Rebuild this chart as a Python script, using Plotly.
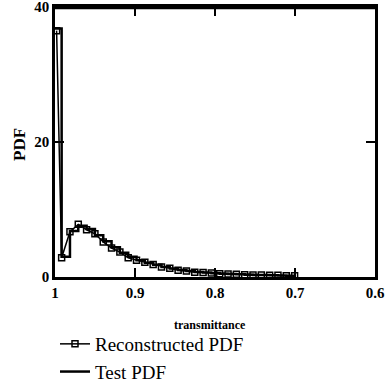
import plotly.graph_objects as go

# Reconstructed PDF (markers)
recon_x = [0.998, 0.9917, 0.9813, 0.9709, 0.9605, 0.9501, 0.9397, 0.9293, 0.9189,
           0.9085, 0.8981, 0.8877, 0.8773, 0.8669, 0.8565, 0.8461, 0.8357, 0.8253,
           0.8149, 0.8045, 0.7941, 0.7837, 0.7733, 0.7629, 0.7525, 0.7421, 0.7317,
           0.7213, 0.7109, 0.7005]
recon_y = [36.5, 2.85, 6.7, 7.8, 7.0, 6.4, 5.2, 4.3, 3.7, 2.85, 2.5, 2.2, 1.85, 1.5,
           1.3, 1.0, 0.9, 0.7, 0.65, 0.6, 0.5, 0.45, 0.4, 0.35, 0.3, 0.3, 0.25,
           0.25, 0.2, 0.2]

# Test PDF (step function, left bin edges)
test_x = [1.0, 0.9917, 0.9813, 0.9709, 0.9605, 0.9501, 0.9397, 0.9293, 0.9189,
          0.9085, 0.8981, 0.8877, 0.8773, 0.8669, 0.8565, 0.8461, 0.8357, 0.8253,
          0.8149, 0.8045, 0.7941, 0.7837, 0.7733, 0.7629, 0.7525, 0.7421, 0.7317,
          0.7213, 0.7109, 0.7005]
test_y = [36.8, 3.0, 6.8, 7.6, 7.1, 6.2, 5.3, 4.4, 3.6, 3.0, 2.5, 2.1, 1.8, 1.5,
          1.25, 1.05, 0.9, 0.75, 0.65, 0.55, 0.5, 0.45, 0.4, 0.35, 0.3, 0.28,
          0.25, 0.22, 0.2, 0.18]

x_ticks = [1.0, 0.9, 0.8, 0.7, 0.6]
x_tick_text = ["1", "0.9", "0.8", "0.7", "0.6"]
y_ticks = [0, 20, 40]

font_family = "Liberation Serif"

fig = go.Figure()
fig.add_trace(go.Scatter(
    x=recon_x, y=recon_y, mode="lines+markers", name="Reconstructed PDF",
    line=dict(color="black", width=1.5),
    marker=dict(symbol="square-open", size=6, color="black", line=dict(width=1.5)),
))
fig.add_trace(go.Scatter(
    x=test_x, y=test_y, mode="lines", name="Test PDF",
    line=dict(color="black", width=2.5, shape="hv"),
))

axis_common = dict(
    showgrid=False, zeroline=False, showline=True, linecolor="black", linewidth=2.5,
    mirror="ticks", ticks="inside", tickcolor="black", ticklen=9, tickwidth=2,
    automargin=False, ticklabeloverflow="allow",
    tickfont=dict(family=font_family, size=15, color="black", weight="bold"),
)

fig.update_layout(
    width=391, height=385,
    margin=dict(l=55, r=16, t=7, b=108, autoexpand=False),
    paper_bgcolor="white", plot_bgcolor="white",
    font=dict(family=font_family, color="black"),
    xaxis=dict(range=[1.0, 0.6], tickvals=x_ticks, ticktext=x_tick_text, **axis_common),
    yaxis=dict(range=[0, 40], tickvals=y_ticks, **axis_common),
    shapes=[dict(type="line", xref="paper", yref="paper", x0=0, x1=1, y0=0.997, y1=0.997,
                 line=dict(color="black", width=3), layer="above")],
    annotations=[
        dict(text="transmittance", xref="paper", yref="paper",
             x=(210 - 55) / 320, y=-(325 - 277) / 270, xanchor="center", yanchor="middle",
             showarrow=False, font=dict(family=font_family, size=12, weight="bold")),
        dict(text="PDF", xref="paper", yref="paper",
             x=(19 - 55) / 320, y=(277 - 145) / 270, xanchor="center", yanchor="middle",
             textangle=-90, showarrow=False,
             font=dict(family=font_family, size=17, weight="bold")),
    ],
    showlegend=True,
    legend=dict(x=55 / 391, y=1 - 325 / 385, xref="container", yref="container",
                xanchor="left", yanchor="top",
                font=dict(family=font_family, size=19, color="black"),
                bgcolor="rgba(0,0,0,0)", itemwidth=30, tracegroupgap=0),
)

fig.write_html("out.html", config={"displayModeBar": False})
